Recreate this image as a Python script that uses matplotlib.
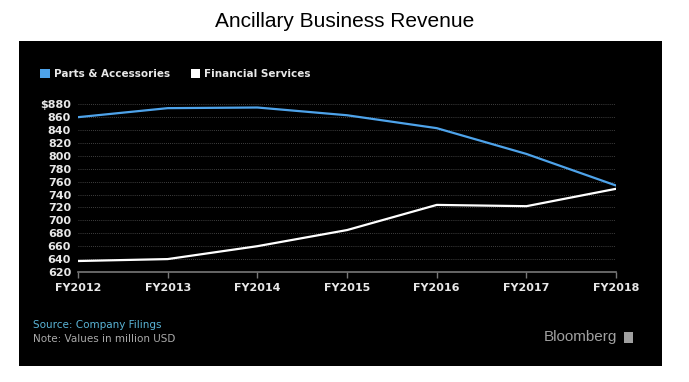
import matplotlib.pyplot as plt
from matplotlib.patches import Rectangle, Patch

years = ["FY2012", "FY2013", "FY2014", "FY2015", "FY2016", "FY2017", "FY2018"]
parts = [860, 874, 875, 863, 843, 803, 754]
financial = [637, 640, 660, 685, 724, 722, 749]
yticks = list(range(620, 881, 20))
ylabels = [str(v) for v in yticks[:-1]] + ["$880"]

blue = "#4ea3ea"

fig = plt.figure(figsize=(6.89, 3.82), dpi=100)
fig.patch.set_facecolor("white")
fig.patches.append(Rectangle((0.0276, 0.042), 0.933, 0.851, transform=fig.transFigure,
                             facecolor="black", edgecolor="none", zorder=-5))

fig.text(0.5, 0.945, "Ancillary Business Revenue", ha="center", va="center",
         fontsize=15, family="Liberation Sans", color="black")

ax = fig.add_axes([0.1132, 0.288, 0.781, 0.439])
ax.set_facecolor("black")
x = list(range(len(years)))
ax.plot(x, parts, color=blue, lw=1.6, zorder=3)
ax.plot(x, financial, color="white", lw=1.6, zorder=3)

ax.set_xlim(0, len(years) - 1)
ax.set_ylim(620, 880)
ax.set_yticks(yticks)
ax.set_yticklabels(ylabels)
ax.set_xticks(x)
ax.set_xticklabels(years)
ax.grid(axis="y", color="#555555", ls=(0, (1, 1.5)), lw=0.6)
for s in ["top", "right", "left"]:
    ax.spines[s].set_visible(False)
ax.spines["bottom"].set_color("#777777")
ax.spines["bottom"].set_linewidth(1.2)
ax.tick_params(axis="y", length=0, pad=5, colors="#e0e0e0", labelsize=8)
ax.tick_params(axis="x", length=4, width=1, color="#777777", pad=4,
               colors="#e0e0e0", labelsize=8)
for lab in ax.get_xticklabels() + ax.get_yticklabels():
    lab.set_fontweight("bold")
    lab.set_color("#e8e8e8")

handles = [Patch(facecolor=blue, edgecolor="none", label="Parts & Accessories"),
           Patch(facecolor="white", edgecolor="none", label="Financial Services")]
leg = fig.legend(handles=handles, loc="center left", bbox_to_anchor=(0.045, 0.806),
                 ncol=2, frameon=False, handlelength=0.9, handleheight=0.9,
                 handletextpad=0.4, columnspacing=2.0,
                 prop={"size": 7.5, "weight": "bold"})
for t in leg.get_texts():
    t.set_color("#e8e8e8")

fig.text(0.048, 0.150, "Source: Company Filings", fontsize=7.5, color="#5ab4d6",
         va="center")
fig.text(0.048, 0.113, "Note: Values in million USD", fontsize=7.5, color="#aaaaaa",
         va="center")
fig.text(0.896, 0.117, "Bloomberg", fontsize=11, color="#a0a0a0", ha="right",
         va="center", family="Liberation Sans")
fig.patches.append(Rectangle((0.906, 0.102), 0.013, 0.030, transform=fig.transFigure,
                             facecolor="#a0a0a0", edgecolor="none", zorder=2))

fig.savefig("out.png", dpi=100, facecolor="white")
